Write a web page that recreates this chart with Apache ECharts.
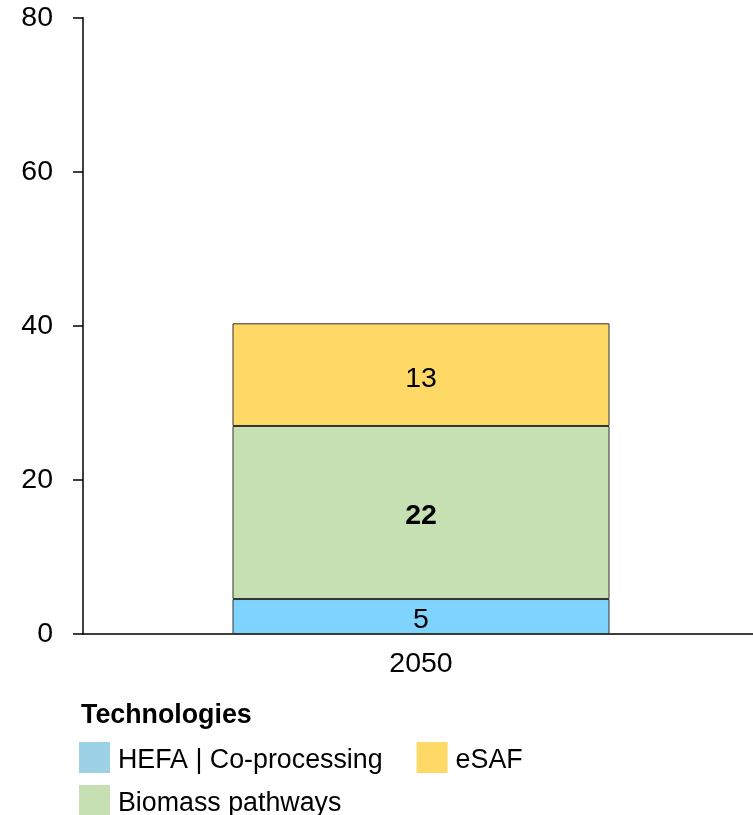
<!DOCTYPE html>
<html><head><meta charset="utf-8">
<script src="https://cdn.jsdelivr.net/npm/echarts@6/dist/echarts.min.js"></script>
<style>html,body{margin:0;padding:0;background:#fff}#c{width:753px;height:815px}</style>
</head><body><div id="c"></div>
<script>
const categories = ['2050'];
const hefa = [4.54];
const biomass = [22.46];
const esaf = [13.33];
const yTicks = [0, 20, 40, 60, 80];

const FONT = '"Liberation Sans", Arial, sans-serif';
const FS = 28.5;
const LFS = 26.8;
const chart = echarts.init(document.getElementById('c'), null, {renderer: 'canvas'});
const lbl = (bold) => ({show: true, position: 'inside', offset: [0, 4], color: '#000', fontFamily: FONT, fontSize: FS,
  fontWeight: bold ? 'bold' : 'normal', formatter: p => Math.round(p.value)});
const legText = {fontFamily: FONT, fontSize: LFS, color: '#000',
  rich: {t: {fontFamily: FONT, fontSize: LFS, color: '#000', padding: [6, 0, 0, 3]}}};
chart.setOption({
  animation: false,
  textStyle: {fontFamily: FONT},
  title: {text: 'Technologies', left: 81, top: 702, padding: 0,
    textStyle: {fontFamily: FONT, fontSize: LFS, fontWeight: 'bold', color: '#000'}},
  legend: [{
    left: 79, top: 742, padding: 0, itemWidth: 31, itemHeight: 31, itemGap: 34, orient: 'horizontal', icon: 'rect',
    formatter: '{t|{name}}', textStyle: legText,
    data: [{name: 'HEFA | Co-processing', itemStyle: {color: '#9dd2e6', borderWidth: 0}},
           {name: 'eSAF', itemStyle: {color: '#ffd966', borderWidth: 0}}]
  }, {
    left: 79, top: 785, padding: 0, itemWidth: 31, itemHeight: 31, orient: 'horizontal', icon: 'rect',
    formatter: '{t|{name}}', textStyle: legText,
    data: [{name: 'Biomass pathways', itemStyle: {color: '#c6e0b4', borderWidth: 0}}]
  }],
  grid: {left: 83, width: 676, top: 17.7, bottom: 181, containLabel: false, outerBoundsMode: 'none'},
  xAxis: {type: 'category', data: categories,
    axisLine: {lineStyle: {color: '#000', width: 1.5}}, axisTick: {show: false},
    axisLabel: {color: '#000', fontFamily: FONT, fontSize: FS, margin: 16}},
  yAxis: {type: 'value', min: yTicks[0], max: yTicks[yTicks.length - 1], interval: 20,
    axisLine: {show: true, lineStyle: {color: '#000', width: 1.5}},
    axisTick: {show: true, length: 10, lineStyle: {color: '#000', width: 1.5}},
    splitLine: {show: false},
    axisLabel: {color: '#000', fontFamily: FONT, fontSize: FS, margin: 30}},
  series: [
    {name: 'HEFA | Co-processing', type: 'bar', stack: 't', data: hefa, barWidth: 377,
     itemStyle: {color: '#7fd4ff', borderColor: '#333', borderWidth: 1}, label: lbl(false)},
    {name: 'Biomass pathways', type: 'bar', stack: 't', data: biomass, barWidth: 377,
     itemStyle: {color: '#c6e0b4', borderColor: '#333', borderWidth: 1}, label: lbl(true)},
    {name: 'eSAF', type: 'bar', stack: 't', data: esaf, barWidth: 377,
     itemStyle: {color: '#ffd966', borderColor: '#333', borderWidth: 1}, label: lbl(false)}
  ]
});
</script></body></html>
